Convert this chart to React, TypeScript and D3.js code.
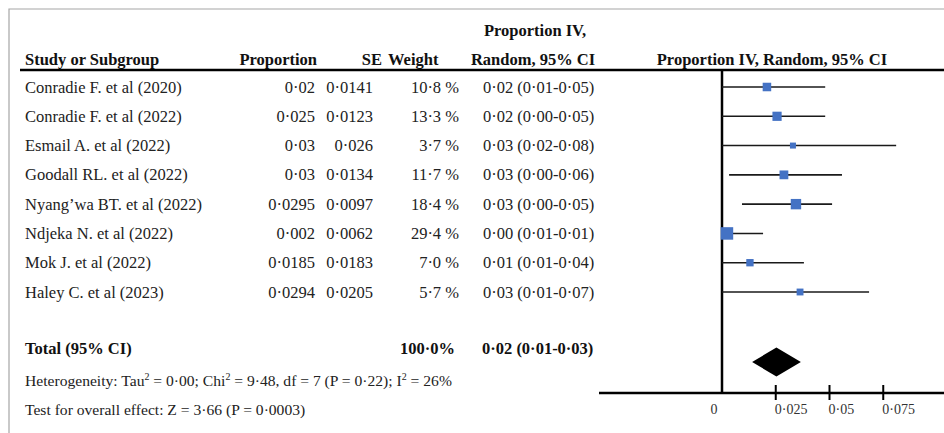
import React, { useEffect, useRef } from 'react'
import * as d3 from 'd3'

const studies = [
  'Conradie F. et al (2020)',
  'Conradie F. et al (2022)',
  'Esmail A. et al (2022)',
  'Goodall RL. et al (2022)',
  'Nyang\u2019wa BT. et al (2022)',
  'Ndjeka N. et al (2022)',
  'Mok J. et al (2022)',
  'Haley C. et al (2023)',
]
const proportionText = ['0·02', '0·025', '0·03', '0·03', '0·0295', '0·002', '0·0185', '0·0294']
const seText = ['0·0141', '0·0123', '0·026', '0·0134', '0·0097', '0·0062', '0·0183', '0·0205']
const weights = [10.8, 13.3, 3.7, 11.7, 18.4, 29.4, 7.0, 5.7]
const ciText = [
  '0·02 (0·01-0·05)',
  '0·02 (0·00-0·05)',
  '0·03 (0·02-0·08)',
  '0·03 (0·00-0·06)',
  '0·03 (0·00-0·05)',
  '0·00 (0·01-0·01)',
  '0·01 (0·01-0·04)',
  '0·03 (0·01-0·07)',
]
// where the squares and whiskers sit on the plot
const pointValue = [0.0209, 0.0256, 0.033, 0.0288, 0.0344, 0.0023, 0.013, 0.0363]
const lowValue = [0, 0, 0, 0.0033, 0.0093, 0, 0, 0]
const highValue = [0.048, 0.048, 0.081, 0.0558, 0.0512, 0.0191, 0.0381, 0.0684]
const pooled = { low: 0.014, mid: 0.0253, high: 0.0367 }
const tickValues = [0.025, 0.05, 0.075]
const tickLabels = ['0·025', '0·05', '0·075']

const fmt = (v: number) => v.toFixed(1).replace('.', '·')

const App = () => {
  const ref = useRef<SVGSVGElement>(null)
  const width = 944
  const height = 433

  useEffect(() => {
    const svg = d3.select(ref.current)
    svg.selectAll('*').remove()
    svg.style('font-family', "'Liberation Serif', 'Times New Roman', serif")

    const x = d3.scaleLinear().domain([0, 0.1]).range([722, 937])
    const y = d3.scalePoint<string>().domain(studies).range([87, 292])
    const size = d3.scaleSqrt().domain([3.7, 29.4]).range([6, 12.5])

    // frame
    svg.append('path').attr('d', `M9,${height} V9 H${width}`)
      .attr('fill', 'none').attr('stroke', '#a6a6a6').attr('stroke-width', 1.2)

    // headers
    const hdr = (t: string, px: number, py: number, anchor: string) =>
      svg.append('text').text(t).attr('x', px).attr('y', py).attr('text-anchor', anchor)
        .attr('font-size', 16.5).attr('font-weight', 'bold').attr('fill', '#111')
    hdr('Study or Subgroup', 25, 65, 'start')
    hdr('Proportion', 317, 65, 'end')
    hdr('SE', 382, 65, 'end')
    hdr('Weight', 388, 65, 'start')
    hdr('Proportion IV,', 535, 36, 'middle')
    hdr('Random, 95% CI', 533, 65, 'middle')
    hdr('Proportion IV, Random, 95% CI', 772, 65, 'middle')

    svg.append('line').attr('x1', 20).attr('x2', width).attr('y1', 70).attr('y2', 70)
      .attr('stroke', '#000').attr('stroke-width', 2.5)

    // rows
    const rows = svg.append('g').attr('font-size', 16.5).attr('fill', '#222')
    studies.forEach((s, i) => {
      const by = (y(s) as number) + 5.5
      rows.append('text').text(s).attr('x', 25).attr('y', by)
      rows.append('text').text(proportionText[i]).attr('x', 315).attr('y', by).attr('text-anchor', 'end')
      rows.append('text').text(seText[i]).attr('x', 373).attr('y', by).attr('text-anchor', 'end')
      rows.append('text').text(fmt(weights[i]) + ' %').attr('x', 459).attr('y', by).attr('text-anchor', 'end')
      rows.append('text').text(ciText[i]).attr('x', 483).attr('y', by)
    })

    // zero line and axis
    svg.append('line').attr('x1', x(0)).attr('x2', x(0)).attr('y1', 70).attr('y2', 394)
      .attr('stroke', '#000').attr('stroke-width', 2.5)
    svg.append('line').attr('x1', 599).attr('x2', width).attr('y1', 393).attr('y2', 393)
      .attr('stroke', '#000').attr('stroke-width', 2.5)
    const ticks = svg.append('g')
    tickValues.forEach((t, i) => {
      ticks.append('line').attr('x1', x(t)).attr('x2', x(t)).attr('y1', 385).attr('y2', 400)
        .attr('stroke', '#000').attr('stroke-width', 2)
      ticks.append('text').text(tickLabels[i]).attr('x', x(t) - 1).attr('y', 414)
        .attr('font-size', 14).attr('fill', '#333')
    })
    ticks.append('text').text('0').attr('x', x(0) - 8).attr('y', 414)
      .attr('font-size', 14).attr('fill', '#333').attr('text-anchor', 'middle')

    // whiskers and squares
    const marks = svg.append('g')
    studies.forEach((s, i) => {
      const cy = y(s) as number
      marks.append('line').attr('x1', x(lowValue[i])).attr('x2', x(highValue[i]))
        .attr('y1', cy).attr('y2', cy).attr('stroke', '#1a1a1a').attr('stroke-width', 1.6)
      const w = size(weights[i])
      marks.append('rect').attr('x', x(pointValue[i]) - w / 2).attr('y', cy - w / 2)
        .attr('width', w).attr('height', w).attr('fill', '#4472c4')
    })

    // total
    hdr('Total (95% CI)', 25, 354, 'start')
    hdr('100·0%', 455, 354, 'end')
    hdr('0·02 (0·01-0·03)', 482, 354, 'start')
    const dy = 362
    svg.append('path')
      .attr('d', `M${x(pooled.low)},${dy} L${x(pooled.mid)},${dy - 14.5} L${x(pooled.high)},${dy} L${x(pooled.mid)},${dy + 14.5} Z`)
      .attr('fill', '#000')

    // footnotes
    const het = svg.append('text').attr('x', 25).attr('y', 386).attr('font-size', 15.6).attr('fill', '#222')
    const sup = (t: string) => het.append('tspan').text(t).attr('font-size', 10).attr('dy', -6)
    const norm = (t: string) => het.append('tspan').text(t).attr('dy', 6)
    het.append('tspan').text('Heterogeneity: Tau')
    sup('2'); norm(' = 0·00; Chi')
    sup('2'); norm(' = 9·48, df = 7 (P = 0·22); I')
    sup('2'); norm(' = 26%')
    svg.append('text').text('Test for overall effect: Z = 3·66 (P = 0·0003)')
      .attr('x', 25).attr('y', 415).attr('font-size', 15.6).attr('fill', '#222')
  }, [])

  return (
    <svg ref={ref} width={width} height={height}
      style={{ position: 'absolute', left: 0, top: 0, background: '#fff' }} />
  )
}

export default App
